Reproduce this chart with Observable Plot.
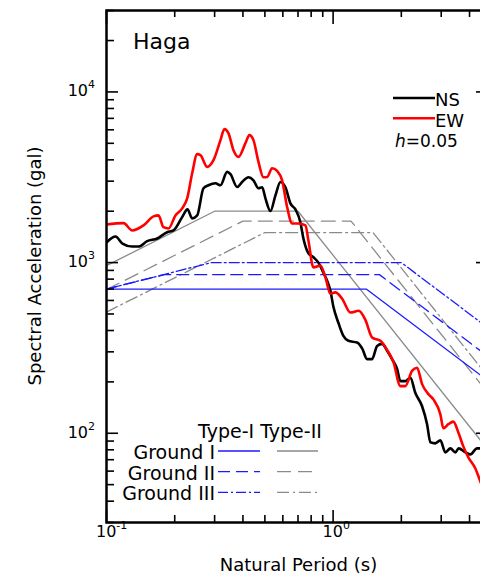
<!DOCTYPE html>
<html><head><meta charset="utf-8">
<script src="https://cdn.jsdelivr.net/npm/d3@7"></script>
<script src="https://cdn.jsdelivr.net/npm/@observablehq/plot@0.6"></script>
<style>
html,body{margin:0;padding:0;overflow:hidden;background:#fff;}
#chart{width:480px;height:577px;overflow:hidden;position:relative;}
#chart svg{max-width:none !important;width:493px !important;height:577px !important;}
</style></head><body><div id="chart"></div>
<script>
// Observed spectra (period in s, acceleration in gal)
const nsPeriod = [0.100,0.1096,0.1176,0.1298,0.1384,0.1512,0.1674,0.1853,0.1974,0.2157,0.2277,0.2388,0.2513,0.2679,0.2818,0.3026,0.3184,0.3406,0.3524,0.3771,0.3967,0.4231,0.4451,0.4684,0.4863,0.5028,0.5290,0.5566,0.5855,0.6161,0.6479,0.6820,0.7173,0.7396,0.7780,0.8186,0.8612,0.9062,0.9408,0.9730,1.003,1.055,1.110,1.168,1.276,1.346,1.412,1.486,1.564,1.645,1.731,1.820,1.916,1.981,2.084,2.193,2.307,2.470,2.598,2.687,2.827,2.974,3.129,3.292,3.463,3.581,3.832,4.033,4.317,4.555,5.0];
const nsAccel = [1311,1422,1293,1242,1242,1335,1384,1507,1543,1847,2050,1815,1890,2725,2838,2916,2838,3399,3294,2773,2967,3162,3036,2725,2762,2379,2004,2478,2967,2762,2224,2050,1719,1384,1134,1075,1000,873,784,684,551,444,372,348,340,312,272,272,325,334,304,272,238,202,202,211,172,144,113,88.5,87.3,90.9,77.3,81.6,77.3,81.6,77.3,75.2,81.6,81.6,80];
const ewPeriod = [0.100,0.1189,0.1298,0.1456,0.1612,0.1696,0.1784,0.1877,0.2015,0.2157,0.2270,0.2388,0.2513,0.2598,0.2781,0.2965,0.3184,0.3314,0.3452,0.3633,0.3822,0.4103,0.4273,0.4451,0.4684,0.4927,0.5117,0.5382,0.5662,0.5957,0.6267,0.6594,0.7027,0.7548,0.7780,0.8186,0.8790,0.9247,0.9730,1.023,1.096,1.192,1.297,1.388,1.486,1.617,1.731,1.845,1.981,2.084,2.230,2.347,2.470,2.641,2.770,2.974,3.066,3.226,3.393,3.570,3.755,3.951,4.244,4.464,5.0];
const ewAccel = [1673,1703,1543,1651,1865,1890,1613,1585,1890,2078,2379,3339,4318,4260,3636,3981,5220,6058,5740,4558,4163,5012,5585,5220,3890,3162,3175,3572,3443,3036,2115,1696,1696,1651,1347,938,960,819,657,669,614,510,522,462,364,348,308,262,189,189,232,242,194,169,158,129,107,113,117,101,83.8,72.3,62.2,52.2,36];

// Design spectra breakpoints [period, acceleration]
const typeI_G1  = [[0.1,700],[1.4,700],[5,196]];
const typeI_G2  = [[0.1,700],[0.18,850],[1.6,850],[5,272]];
const typeI_G3  = [[0.1,700],[0.29,1000],[2.0,1000],[5,400]];
const typeII_G1 = [[0.1,960],[0.3,2000],[0.7,2000],[5,75.5]];
const typeII_G2 = [[0.1,695],[0.4,1750],[1.2,1750],[5,162]];
const typeII_G3 = [[0.1,513],[0.5,1500],[1.5,1500],[5,202]];

// Axis ticks
const xMajor = [0.1, 1];
const xMinor = [0.2,0.3,0.4,0.5,0.6,0.7,0.8,0.9,2,3,4,5];
const xMajorExp = ["-1", "0"];
const yMajor = [100, 1000, 10000];
const yMinor = [30,40,50,60,70,80,90,200,300,400,500,600,700,800,900,2000,3000,4000,5000,6000,7000,8000,9000,20000,30000];
const yMajorExp = ["2", "3", "4"];
const groundLabels = ["Ground I", "Ground II", "Ground III"];

(function () {
const W = 493, H = 577, ML = 106, MR = 2, MT = 10, MB = 55;
const PW = W - ML - MR, PH = H - MT - MB;
const BLUE = "#1a1aff", GRAY = "#8a8a8a";
const dashes = [null, "12,6", "10,3,2,3"];
const grayDashes = [null, "14,7", "12,4,2,4"];

const ns = nsPeriod.map((T, i) => ({T, S: nsAccel[i]}));
const ew = ewPeriod.map((T, i) => ({T, S: ewAccel[i]}));

const designLine = (data, stroke, dash) => Plot.line(data, {
  x: d => d[0], y: d => d[1], stroke, strokeWidth: 1.3,
  strokeDasharray: dash || undefined, clip: true
});
const tickOpts = {stroke: "#000", strokeWidth: 1.6};

const chart = Plot.plot({
  width: W, height: H,
  marginLeft: ML, marginRight: MR, marginTop: MT, marginBottom: MB,
  style: {fontFamily: "DejaVu Sans, sans-serif", background: "white", overflow: "visible", maxWidth: "none"},
  x: {type: "log", domain: [0.1, 5], axis: null},
  y: {type: "log", domain: [30, 30000], axis: null},
  marks: [
    designLine(typeII_G1, GRAY, grayDashes[0]),
    designLine(typeII_G2, GRAY, grayDashes[1]),
    designLine(typeII_G3, GRAY, grayDashes[2]),
    designLine(typeI_G1, BLUE, dashes[0]),
    designLine(typeI_G2, BLUE, dashes[1]),
    designLine(typeI_G3, BLUE, dashes[2]),
    Plot.line(ns, {x: "T", y: "S", stroke: "#000", strokeWidth: 2.6, curve: "monotone-x", clip: true}),
    Plot.line(ew, {x: "T", y: "S", stroke: "#ff0000", strokeWidth: 2.6, curve: "monotone-x", clip: true}),
    // inward ticks: bottom / top
    Plot.ruleX(xMajor, {x: d => d, insetTop: PH - 12, ...tickOpts}),
    Plot.ruleX(xMinor, {x: d => d, insetTop: PH - 7, ...tickOpts}),
    Plot.ruleX(xMajor, {x: d => d, insetBottom: PH - 14, ...tickOpts}),
    Plot.ruleX(xMinor, {x: d => d, insetBottom: PH - 7, ...tickOpts}),
    // inward ticks: left / right
    Plot.ruleY(yMajor, {y: d => d, insetRight: PW - 12, ...tickOpts}),
    Plot.ruleY(yMinor, {y: d => d, insetRight: PW - 8, ...tickOpts}),
    Plot.ruleY(yMajor, {y: d => d, insetLeft: PW - 15, ...tickOpts}),
    Plot.ruleY(yMinor, {y: d => d, insetLeft: PW - 8, ...tickOpts}),
    Plot.frame({stroke: "#000", strokeWidth: 2.5})
  ]
});
document.getElementById("chart").appendChild(chart);

const svg = d3.select(chart);
const sx = chart.scale("x"), sy = chart.scale("y");
const X = v => sx.apply(v), Y = v => sy.apply(v);
const pLeft = X(0.1), pRight = X(5), pBottom = Y(30), pTop = Y(30000);

function addText(x, y, str, size, anchor) {
  return svg.append("text").attr("x", x).attr("y", y).attr("text-anchor", anchor || "start")
    .attr("font-size", size).attr("fill", "#000").text(str);
}
// tick labels with superscripts
function powerLabel(x, y, exp, anchor) {
  const t = addText(x, y, null, 16, anchor);
  t.append("tspan").text("10");
  t.append("tspan").attr("font-size", 11).attr("dy", -8).text(exp);
  return t;
}
xMajor.forEach((v, i) => powerLabel(X(v) - 10, pBottom + 15, xMajorExp[i], "start"));
yMajor.forEach((v, i) => powerLabel(pLeft - 11, Y(v) + 5, yMajorExp[i], "end"));

// axis titles
addText((pLeft + pRight) / 2, 571, "Natural Period (s)", 18, "middle");
svg.append("text").attr("transform", `translate(40.5,${(pTop + pBottom) / 2}) rotate(-90)`)
  .attr("text-anchor", "middle").attr("font-size", 18).attr("fill", "#000").text("Spectral Acceleration (gal)");

// site name
addText(133, 49, "Haga", 22);

// legend: observed
svg.append("line").attr("x1", 393).attr("x2", 435).attr("y1", 98).attr("y2", 98).attr("stroke", "#000").attr("stroke-width", 2.6);
addText(435, 106, "NS", 18);
svg.append("line").attr("x1", 393).attr("x2", 435).attr("y1", 118.3).attr("y2", 118.3).attr("stroke", "#ff0000").attr("stroke-width", 2.6);
addText(435, 126.5, "EW", 18);
const h = addText(395, 146.7, null, 17);
h.append("tspan").attr("font-style", "italic").text("h");
h.append("tspan").text("=0.05");

// legend: design spectra
addText(198, 438, "Type-I Type-II", 19);
const legY = [451, 471.7, 492.3], legBase = [459.3, 480, 500];
groundLabels.forEach((lab, i) => {
  addText(215, legBase[i], lab, 19, "end");
  svg.append("line").attr("x1", 218).attr("x2", 260).attr("y1", legY[i]).attr("y2", legY[i])
    .attr("stroke", BLUE).attr("stroke-width", 1.3).attr("stroke-dasharray", dashes[i]);
  svg.append("line").attr("x1", 277).attr("x2", 318).attr("y1", legY[i]).attr("y2", legY[i])
    .attr("stroke", GRAY).attr("stroke-width", 1.3).attr("stroke-dasharray", grayDashes[i]);
});
})();
</script>
</body></html>
